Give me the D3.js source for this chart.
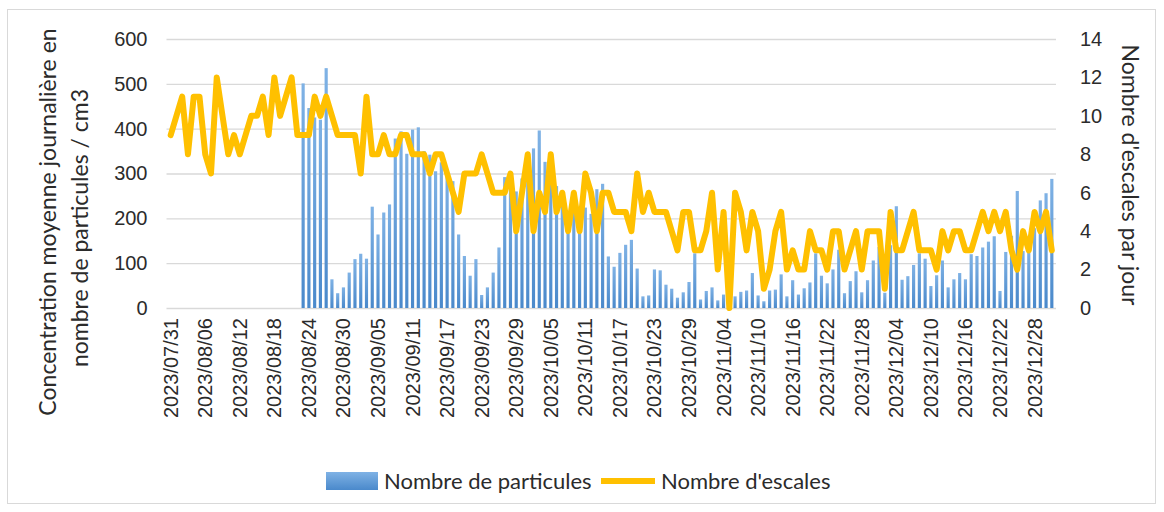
<!DOCTYPE html>
<html lang="fr">
<head>
<meta charset="UTF-8">
<title>Particules et escales</title>
<script src="https://d3js.org/d3.v7.min.js"></script>
<style>
  body { margin: 0; background: #fff; }
  svg { display: block; font-family: Lato, "Open Sans", sans-serif; }
  .grid line { stroke: #d9d9d9; stroke-width: 1.3px; }
  .grid path, .axis path { display: none; }
  .axis text { font-size: 20px; fill: #2b2b2b; }
  .title { font-size: 23px; fill: #2b2b2b; }
  .legend text { font-size: 22px; fill: #2b2b2b; }
</style>
</head>
<body>
<svg width="1164" height="512"></svg>
<script>
// one category per day
const days = d3.timeDay.range(new Date(2023, 6, 31), new Date(2024, 0, 1));

// daily mean particle concentration (particles / cm3), null = no measurement
const particules = [
  null, null, null, null, null, null, null, null, null, null,
  null, null, null, null, null, null, null, null, null, null,
  null, null, null,
  501, 446, 425, 420, 535, 64, 33, 46, 79, 109,
  121, 110, 226, 164, 213, 231, 378, 394, 344, 398,
  403, 350, 342, 305, 325, 300, 283, 164, 116, 72,
  109, 29, 46, 79, 135, 292, 280, 260, 289, 288,
  356, 396, 326, 340, 272, 235, 200, 250, 190, 224,
  210, 265, 277, 115, 92, 123, 141, 152, 88, 26,
  28, 86, 84, 52, 43, 23, 35, 58, 122, 19,
  38, 46, 17, 30, 12, 26, 36, 39, 78, 28,
  15, 39, 41, 75, 26, 62, 30, 44, 57, 122,
  72, 55, 86, 130, 33, 60, 82, 35, 62, 106,
  136, 34, 140, 227, 63, 71, 96, 122, 110, 49,
  73, 106, 46, 64, 78, 64, 120, 116, 135, 148,
  160, 38, 125, 161, 261, 127, 135, 178, 240, 256, 288
];

// number of ship calls per day
const escales = [
  9, 10, 11, 8, 11, 11, 8, 7, 12, 10,
  8, 9, 8, 9, 10, 10, 11, 9, 12, 10,
  11, 12, 9, 9, 9, 11, 10, 11, 10, 9,
  9, 9, 9, 7, 11, 8, 8, 9, 8, 8,
  9, 9, 8, 8, 8, 7, 8, 8, 7, 6,
  5, 7, 7, 7, 8, 7, 6, 6, 6, 7,
  4, 6, 8, 4, 6, 5, 8, 5, 6, 4,
  6, 4, 7, 6, 4, 6, 6, 5, 5, 5,
  4, 7, 5, 6, 5, 5, 5, 4, 3, 5,
  5, 3, 3, 4, 6, 2, 5, 0, 6, 5,
  3, 5, 4, 1, 2, 4, 5, 2, 3, 2,
  2, 4, 3, 3, 2, 4, 4, 2, 3, 4,
  2, 4, 4, 4, 1, 5, 3, 3, 4, 5,
  3, 3, 3, 2, 4, 3, 4, 4, 3, 3,
  4, 5, 4, 5, 4, 5, 3, 2, 4, 3,
  5, 4, 5, 3
];

const leftTicks = [0, 100, 200, 300, 400, 500, 600];
const rightTicks = [0, 2, 4, 6, 8, 10, 12, 14];

const svg = d3.select("svg");
const fmt = d3.timeFormat("%Y/%m/%d");
const plotLeft = 166.5, plotRight = 1056, plotTop = 39, plotBottom = 308;

// chart border
svg.append("rect")
  .attr("x", 7.5).attr("y", 9.5)
  .attr("width", 1148).attr("height", 494)
  .attr("fill", "none").attr("stroke", "#d9d9d9");

const x = d3.scaleBand()
  .domain(days.map(fmt))
  .range([plotLeft, plotRight])
  .padding(0.45);

const y = d3.scaleLinear().domain([0, 600]).range([plotBottom, plotTop]);
const y2 = d3.scaleLinear().domain([0, 14]).range([plotBottom, plotTop]);

const defs = svg.append("defs");
const grad = defs.append("linearGradient")
  .attr("id", "barGrad")
  .attr("x1", 0).attr("y1", 0).attr("x2", 0).attr("y2", 1);
grad.append("stop").attr("offset", "0%").attr("stop-color", "#7fb2e5");
grad.append("stop").attr("offset", "100%").attr("stop-color", "#4a89cb");

// gridlines
svg.append("g")
  .attr("class", "grid")
  .attr("transform", `translate(${plotLeft},0)`)
  .call(d3.axisLeft(y).tickValues(leftTicks).tickSize(-(plotRight - plotLeft)).tickFormat(""));

// bars
const rows = days.map((d, i) => ({ key: fmt(d), p: particules[i], e: escales[i] }));

svg.append("g")
  .selectAll("rect")
  .data(rows.filter(d => d.p != null))
  .join("rect")
  .attr("x", d => x(d.key))
  .attr("y", d => y(d.p))
  .attr("width", x.bandwidth())
  .attr("height", d => y(0) - y(d.p))
  .attr("fill", "url(#barGrad)");

// line
const line = d3.line()
  .x(d => x(d.key) + x.bandwidth() / 2)
  .y(d => y2(d.e));

svg.append("path")
  .datum(rows)
  .attr("d", line)
  .attr("fill", "none")
  .attr("stroke", "#ffc000")
  .attr("stroke-width", 6)
  .attr("stroke-linejoin", "round")
  .attr("stroke-linecap", "round");

// axes
svg.append("g")
  .attr("class", "axis")
  .attr("transform", `translate(${plotLeft},0)`)
  .call(d3.axisLeft(y).tickValues(leftTicks).tickSize(0).tickPadding(19));

svg.append("g")
  .attr("class", "axis")
  .attr("transform", `translate(${plotRight},0)`)
  .call(d3.axisRight(y2).tickValues(rightTicks).tickSize(0).tickPadding(24));

const xAxis = svg.append("g")
  .attr("class", "axis")
  .attr("transform", `translate(0,${plotBottom})`)
  .call(d3.axisBottom(x)
    .tickValues(x.domain().filter((d, i) => i % 6 === 0))
    .tickSize(0));

xAxis.selectAll("text")
  .attr("transform", "rotate(-90)")
  .attr("x", -10)
  .attr("y", 0)
  .attr("dy", "0.35em")
  .style("text-anchor", "end");

// axis titles
svg.append("text")
  .attr("class", "title")
  .attr("transform", "translate(56,222) rotate(-90)")
  .attr("text-anchor", "middle")
  .text("Concentration moyenne journalière en");

svg.append("text")
  .attr("class", "title")
  .attr("transform", "translate(88,228) rotate(-90)")
  .attr("text-anchor", "middle")
  .text("nombre de particules / cm3");

svg.append("text")
  .attr("class", "title")
  .attr("transform", "translate(1122,175) rotate(90)")
  .attr("text-anchor", "middle")
  .text("Nombre d'escales par jour");

// legend
const legend = svg.append("g").attr("class", "legend");

legend.append("rect")
  .attr("x", 326).attr("y", 472)
  .attr("width", 52).attr("height", 18)
  .attr("fill", "url(#barGrad)");

legend.append("text")
  .attr("x", 384).attr("y", 481)
  .attr("dy", "0.35em")
  .text("Nombre de particules");

legend.append("line")
  .attr("x1", 601).attr("x2", 655)
  .attr("y1", 481).attr("y2", 481)
  .attr("stroke", "#ffc000")
  .attr("stroke-width", 6);

legend.append("text")
  .attr("x", 661).attr("y", 481)
  .attr("dy", "0.35em")
  .text("Nombre d'escales");
</script>
</body>
</html>
